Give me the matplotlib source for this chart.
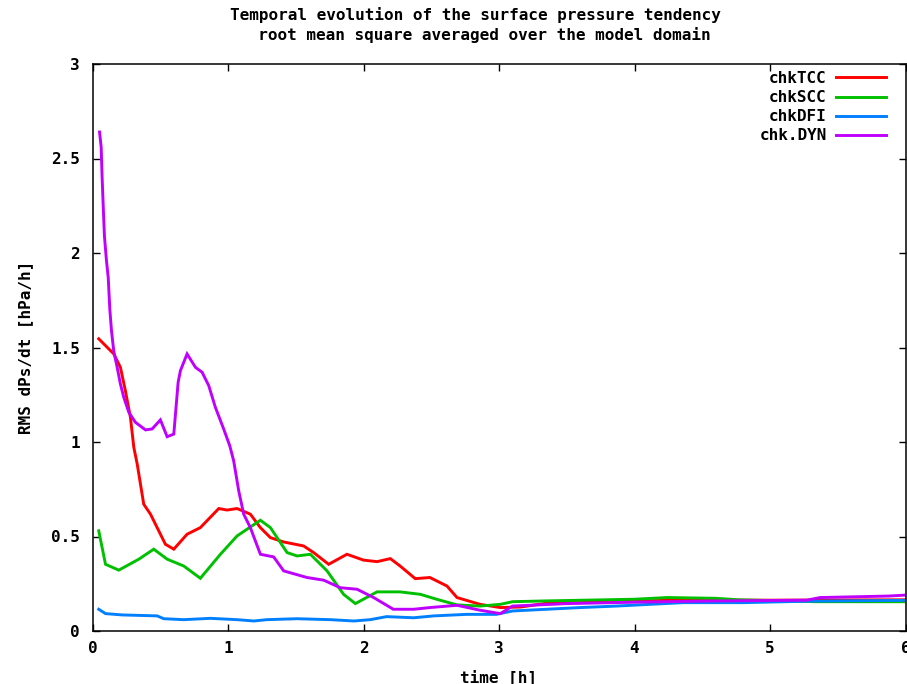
import matplotlib
matplotlib.use("Agg")
import matplotlib.pyplot as plt

# ---- data ----
t_tcc = [0.046,0.157,0.206,0.243,0.28,0.305,0.33,0.378,0.428,0.538,0.6,0.698,0.796,0.932,0.993,1.067,1.165,1.239,1.313,1.411,1.558,1.632,1.743,1.878,2.0,2.1,2.198,2.27,2.382,2.49,2.616,2.69,2.86,3.01,3.16,3.38,3.6,4.28,5.0,6.0]
y_tcc = [1.546,1.466,1.395,1.27,1.13,0.971,0.883,0.671,0.618,0.459,0.433,0.512,0.547,0.648,0.64,0.648,0.618,0.547,0.494,0.471,0.45,0.415,0.353,0.406,0.375,0.367,0.383,0.344,0.277,0.283,0.238,0.177,0.141,0.124,0.127,0.15,0.15,0.163,0.163,0.165]

t_scc = [0.046,0.096,0.194,0.342,0.452,0.551,0.673,0.796,0.944,1.067,1.239,1.313,1.436,1.51,1.608,1.731,1.853,1.94,2.1,2.27,2.42,2.54,2.69,2.86,3.01,3.1,3.33,4.0,4.24,4.6,4.77,5.34,6.0]
y_scc = [0.53,0.353,0.322,0.38,0.433,0.38,0.344,0.279,0.406,0.503,0.586,0.547,0.415,0.397,0.406,0.318,0.194,0.145,0.207,0.207,0.194,0.168,0.138,0.132,0.141,0.155,0.159,0.168,0.177,0.173,0.165,0.155,0.155]

t_dfi = [0.046,0.096,0.219,0.477,0.526,0.673,0.87,1.067,1.19,1.288,1.51,1.755,1.93,2.05,2.17,2.37,2.52,2.76,2.98,3.1,3.35,3.6,3.87,4.11,4.36,4.8,5.3,6.0]
y_dfi = [0.115,0.092,0.085,0.08,0.065,0.06,0.067,0.06,0.053,0.06,0.065,0.06,0.053,0.06,0.076,0.07,0.08,0.088,0.088,0.106,0.115,0.124,0.132,0.141,0.15,0.15,0.158,0.162]

t_dyn = [0.052,0.064,0.071,0.079,0.088,0.103,0.116,0.128,0.14,0.157,0.182,0.206,0.231,0.268,0.317,0.391,0.44,0.501,0.551,0.6,0.632,0.649,0.698,0.76,0.809,0.858,0.907,0.968,1.013,1.042,1.079,1.116,1.165,1.239,1.337,1.411,1.583,1.706,1.829,1.952,2.075,2.22,2.37,2.49,2.69,2.86,3.01,3.1,3.35,3.5,4.04,4.6,5.27,5.37,5.88,6.0]
y_dyn = [2.64,2.56,2.40,2.25,2.09,1.96,1.87,1.70,1.59,1.48,1.395,1.307,1.236,1.157,1.104,1.064,1.069,1.117,1.028,1.042,1.316,1.378,1.466,1.395,1.369,1.298,1.183,1.069,0.98,0.9,0.742,0.618,0.547,0.406,0.392,0.318,0.283,0.269,0.229,0.221,0.177,0.115,0.115,0.124,0.136,0.11,0.092,0.132,0.14,0.145,0.153,0.159,0.163,0.177,0.185,0.19]

series_names = ["chkTCC", "chkSCC", "chkDFI", "chk.DYN"]
x_ticks = [0, 1, 2, 3, 4, 5, 6]
x_labels = ["0", "1", "2", "3", "4", "5", "6"]
y_ticks = [0, 0.5, 1, 1.5, 2, 2.5, 3]
y_labels = ["0", "0.5", "1", "1.5", "2", "2.5", "3"]

colors = ["#ff0000", "#00c000", "#0080ff", "#c000ff"]

plt.rcParams["font.family"] = "DejaVu Sans Mono"
plt.rcParams["font.weight"] = "bold"
FS = 11.5

W, H = 907, 684
fig = plt.figure(figsize=(W / 100, H / 100), dpi=100)
left, right, top, bottom = 92.5, 905.5, 64, 631
ax = fig.add_axes([left / W, (H - bottom) / H, (right - left) / W, (bottom - top) / H])

for t, y, c, n in zip([t_tcc, t_scc, t_dfi, t_dyn], [y_tcc, y_scc, y_dfi, y_dyn], colors, series_names):
    ax.plot(t, y, color=c, lw=2.1, label=n, solid_joinstyle="miter")

ax.set_xlim(0, 6)
ax.set_ylim(0, 3)
ax.set_xticks(x_ticks)
ax.set_xticklabels(x_labels)
ax.set_yticks(y_ticks)
ax.set_yticklabels(y_labels)
ax.tick_params(axis="both", direction="in", length=5, width=1, top=True, right=True,
               labelsize=FS)
ax.tick_params(axis="x", pad=7)
ax.tick_params(axis="y", pad=9)
for s in ax.spines.values():
    s.set_linewidth(1.1)
    s.set_color("black")

ax.set_xlabel("time [h]", fontsize=FS, fontweight="bold", labelpad=10)
ax.set_ylabel("RMS dPs/dt [hPa/h]", fontsize=FS, fontweight="bold", labelpad=13)

fig.text(475 / W, 1 - 25 / H,
         "Temporal evolution of the surface pressure tendency\n  root mean square averaged over the model domain",
         ha="center", va="center", fontsize=FS, fontweight="bold", linespacing=1.25)

leg = ax.legend(loc="upper right", frameon=False, markerfirst=False,
                fontsize=FS, handlelength=3.1, handletextpad=0.6,
                labelspacing=0.26, borderaxespad=0.0, borderpad=0.0,
                bbox_to_anchor=((886 - left) / (right - left), (bottom - 71) / (bottom - top)))
for txt in leg.get_texts():
    txt.set_ha("right")

fig.savefig("out.png", dpi=100)
